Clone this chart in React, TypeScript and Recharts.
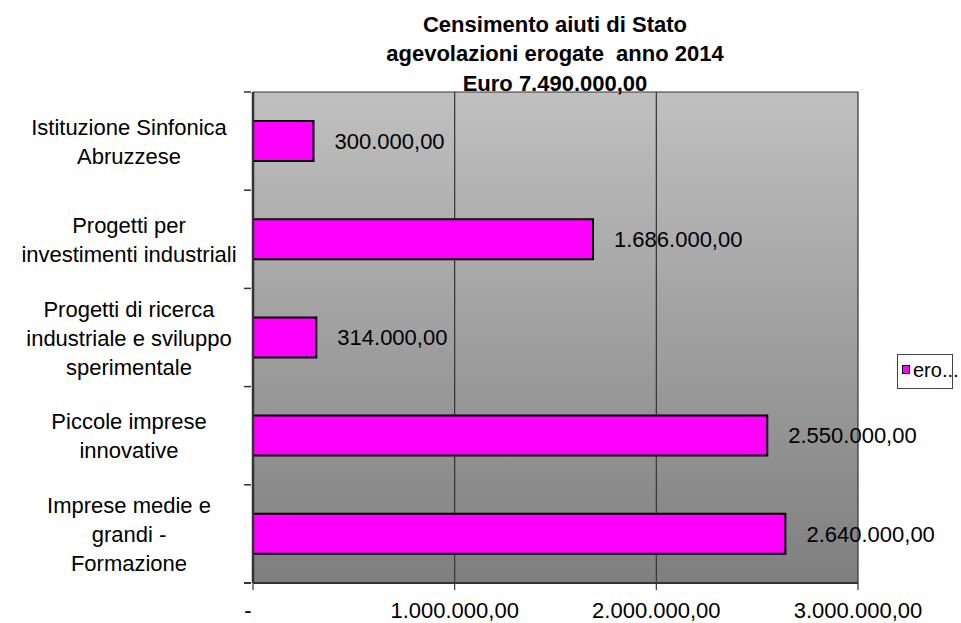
import React from 'react';
import { BarChart, Bar, XAxis, YAxis, CartesianGrid, LabelList, Legend } from 'recharts';

const categories = [
  'Istituzione Sinfonica Abruzzese',
  'Progetti per investimenti industriali',
  'Progetti di ricerca industriale e sviluppo sperimentale',
  'Piccole imprese innovative',
  'Imprese medie e grandi - Formazione',
];
const categoryLines = [
  ['Istituzione Sinfonica', 'Abruzzese'],
  ['Progetti per', 'investimenti industriali'],
  ['Progetti di ricerca', 'industriale e sviluppo', 'sperimentale'],
  ['Piccole imprese', 'innovative'],
  ['Imprese medie e', 'grandi -', 'Formazione'],
];
const erogazioni = [300000, 1686000, 314000, 2550000, 2640000];
const xTicks = [0, 1000000, 2000000, 3000000];
const titleLines = ['Censimento aiuti di Stato', 'agevolazioni erogate  anno 2014', 'Euro 7.490.000,00'];
const seriesName = 'erogazioni';
const legendLabel = 'ero...';

const data = categories.map((c, i) => ({ name: c, value: erogazioni[i] }));

const FONT = '"Liberation Sans", Arial, sans-serif';

const fmtValue = (v: any) => {
  const n = Math.round(Number(v));
  return n.toString().replace(/\B(?=(\d{3})+(?!\d))/g, '.') + ',00';
};
const fmtAxis = (v: any) => (Number(v) === 0 ? '-' : fmtValue(v));

const XTick = (props: any) => {
  const { x, y, payload } = props;
  const isZero = Number(payload.value) === 0;
  return (
    <text x={x} y={y} dx={isZero ? -5 : 0} dy="0.71em" textAnchor="middle" fontSize={22} fill="#000" fontFamily={FONT}>
      {fmtAxis(payload.value)}
    </text>
  );
};

const CatTick = (props: any) => {
  const { x, y, payload, index } = props;
  const idx = payload && typeof payload.index === 'number' ? payload.index : index;
  const lines = categoryLines[idx] || [String(payload.value)];
  const half = payload && typeof payload.offset === 'number' ? payload.offset : 0;
  const n = lines.length;
  const cx = x - 115;
  const isLast = idx === categories.length - 1;
  return (
    <g>
      <line x1={x} x2={x + 7} y1={y - half} y2={y - half} stroke="#333" strokeWidth={1.5} />
      {isLast && <line x1={x} x2={x + 7} y1={y + half} y2={y + half} stroke="#333" strokeWidth={2} />}
      <text textAnchor="middle" fontSize={22} fill="#000" fontFamily={FONT}>
        {lines.map((l, i) => (
          <tspan key={i} x={cx} y={y + (i - (n - 1) / 2) * 29 + 8}>
            {l}
          </tspan>
        ))}
      </text>
    </g>
  );
};

const LegendBox = () => (
  <div
    style={{
      width: 56,
      height: 35,
      boxSizing: 'border-box',
      border: '1px solid #444',
      background: '#fff',
      position: 'relative',
      fontFamily: FONT,
      fontSize: 20,
      color: '#000',
    }}
  >
    <span
      style={{
        position: 'absolute',
        left: 4,
        top: 10,
        width: 8,
        height: 9,
        background: '#ff00ff',
        border: '1px solid #000',
        boxSizing: 'border-box',
      }}
    />
    <span style={{ position: 'absolute', left: 15, top: 5, lineHeight: '20px', whiteSpace: 'nowrap' }}>
      {legendLabel}
    </span>
  </div>
);

export default function App() {
  return (
    <div style={{ position: 'absolute', left: 0, top: 0, width: 961, height: 623, fontFamily: FONT, background: '#fff' }}>
      <BarChart
        width={961}
        height={623}
        data={data}
        layout="vertical"
        margin={{ top: 92, right: 103, bottom: 0, left: 0 }}
        barSize={40}
      >
        <defs>
          <linearGradient id="plotBg" x1="0" y1="0" x2="0" y2="1">
            <stop offset="0" stopColor="#c0c0c0" />
            <stop offset="1" stopColor="#7f7f7f" />
          </linearGradient>
        </defs>
        <CartesianGrid
          fill="url(#plotBg)"
          fillOpacity={1}
          stroke="#333"
          strokeWidth={1.2}
          horizontalCoordinatesGenerator={({ offset }: any) => [offset.top]}
        />
        <XAxis
          type="number"
          domain={[0, 3000000]}
          ticks={xTicks}
          interval={0}
          height={40}
          tickSize={7}
          tickMargin={12}
          tick={<XTick />}
          axisLine={{ stroke: '#333', strokeWidth: 2 }}
          tickLine={{ stroke: '#333', strokeWidth: 1.2 }}
        />
        <YAxis
          type="category"
          dataKey="name"
          width={253}
          interval={0}
          tickSize={7}
          tickLine={false}
          axisLine={{ stroke: '#333', strokeWidth: 2.5 }}
          tick={<CatTick />}
        />
        <Bar dataKey="value" name={seriesName} fill="#ff00ff" stroke="#000" strokeWidth={2} isAnimationActive={false}>
          <LabelList
            dataKey="value"
            position="right"
            offset={21}
            formatter={fmtValue}
            style={{ fontSize: 22, fill: '#000' }}
          />
        </Bar>
        <Legend
          layout="vertical"
          align="center"
          verticalAlign="middle"
          wrapperStyle={{ left: 897, top: 354, width: 56 }}
          content={LegendBox}
        />
      </BarChart>
      <div
        style={{
          position: 'absolute',
          left: 255,
          width: 600,
          top: 9.6,
          textAlign: 'center',
          fontSize: 22,
          fontWeight: 'bold',
          lineHeight: '29.5px',
          whiteSpace: 'pre',
          color: '#000',
        }}
      >
        {titleLines.join('\n')}
      </div>
    </div>
  );
}
